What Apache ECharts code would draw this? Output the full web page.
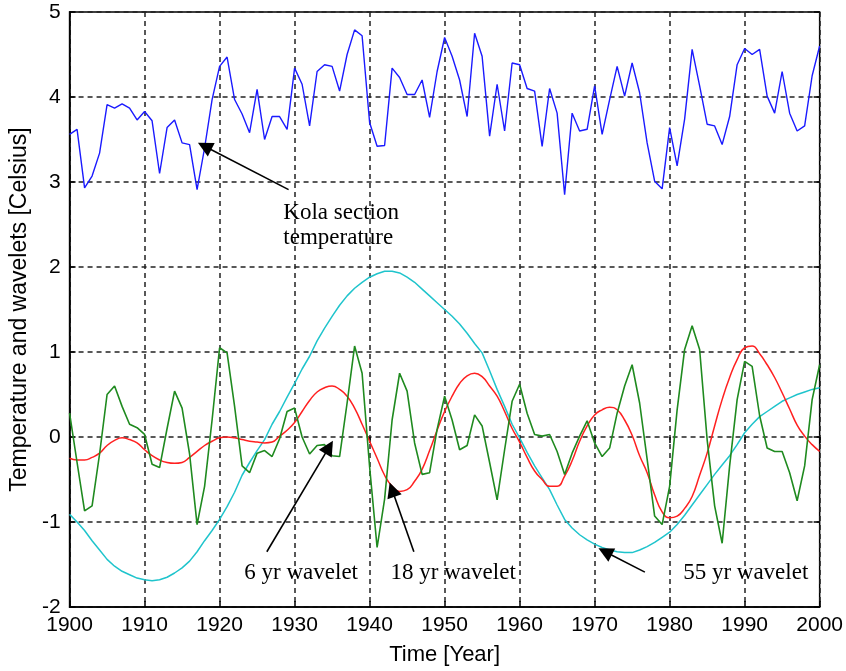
<!DOCTYPE html>
<html>
<head>
<meta charset="utf-8">
<script src="https://cdn.jsdelivr.net/npm/echarts@6/dist/echarts.min.js"></script>
<style>
html,body{margin:0;padding:0;background:#fff;}
#chart{width:846px;height:671px;}
</style>
</head>
<body>
<div id="chart"></div>
<script>
const startYear = 1900;
const xTicks = [1900,1910,1920,1930,1940,1950,1960,1970,1980,1990,2000];
const yTicks = [-2,-1,0,1,2,3,4,5];

const kola = [3.56,3.62,2.93,3.07,3.34,3.91,3.87,3.92,3.87,3.73,
3.83,3.72,3.10,3.64,3.73,3.46,3.44,2.91,3.40,3.97,
4.36,4.47,3.97,3.80,3.58,4.09,3.50,3.77,3.77,3.62,
4.34,4.15,3.66,4.30,4.38,4.36,4.07,4.50,4.79,4.72,
3.70,3.42,3.43,4.34,4.23,4.03,4.03,4.20,3.76,4.30,
4.70,4.48,4.20,3.77,4.75,4.48,3.54,4.15,3.60,4.40,
4.38,4.10,4.07,3.42,4.10,3.81,2.85,3.81,3.60,3.62,
4.13,3.56,3.97,4.36,4.01,4.40,4.05,3.46,3.01,2.92,
3.64,3.19,3.74,4.56,4.13,3.68,3.66,3.44,3.77,4.38,
4.57,4.50,4.56,4.01,3.81,4.30,3.81,3.60,3.66,4.25,
4.60];

const w6 = [0.28,-0.30,-0.87,-0.81,-0.20,0.50,0.60,0.36,0.15,0.11,
0.03,-0.32,-0.36,0.10,0.54,0.34,-0.20,-1.03,-0.58,0.20,
1.05,0.99,0.36,-0.34,-0.42,-0.19,-0.16,-0.23,-0.02,0.30,
0.34,0.00,-0.20,-0.10,-0.09,-0.22,-0.23,0.40,1.07,0.75,
-0.35,-1.30,-0.73,0.20,0.75,0.54,-0.07,-0.44,-0.42,0.09,
0.48,0.20,-0.15,-0.10,0.26,0.13,-0.30,-0.74,-0.15,0.42,
0.62,0.28,0.03,0.01,0.03,-0.17,-0.44,-0.19,0.01,0.19,
-0.07,-0.23,-0.13,0.28,0.60,0.85,0.40,-0.26,-0.93,-1.03,
-0.58,0.32,1.03,1.31,1.03,-0.03,-0.81,-1.25,-0.34,0.44,
0.89,0.83,0.25,-0.13,-0.17,-0.17,-0.42,-0.75,-0.34,0.44,
0.85];

const w18 = [-0.25,-0.27,-0.27,-0.24,-0.19,-0.10,-0.04,-0.01,-0.03,-0.07,
-0.15,-0.22,-0.27,-0.30,-0.31,-0.30,-0.24,-0.17,-0.10,-0.05,
-0.01,0.00,-0.01,-0.03,-0.05,-0.06,-0.07,-0.06,0.01,0.08,
0.17,0.30,0.43,0.53,0.58,0.60,0.56,0.48,0.34,0.15,
-0.05,-0.25,-0.45,-0.58,-0.64,-0.62,-0.52,-0.38,-0.16,0.08,
0.30,0.48,0.63,0.72,0.75,0.71,0.60,0.48,0.30,0.10,
-0.06,-0.24,-0.40,-0.50,-0.58,-0.58,-0.46,-0.28,-0.05,0.13,
0.26,0.32,0.35,0.32,0.20,0.02,-0.22,-0.42,-0.68,-0.88,
-0.95,-0.93,-0.84,-0.70,-0.45,-0.19,0.13,0.44,0.70,0.91,
1.05,1.07,0.98,0.85,0.70,0.52,0.33,0.14,0.01,-0.09,
-0.17];

const w55 = [-0.91,-1.00,-1.10,-1.22,-1.33,-1.44,-1.52,-1.58,-1.62,-1.66,
-1.68,-1.69,-1.68,-1.65,-1.60,-1.54,-1.46,-1.35,-1.22,-1.10,
-0.97,-0.82,-0.65,-0.45,-0.30,-0.16,-0.03,0.15,0.30,0.47,
0.63,0.80,0.95,1.13,1.28,1.42,1.55,1.66,1.75,1.82,
1.88,1.92,1.95,1.95,1.93,1.88,1.82,1.74,1.66,1.58,
1.50,1.42,1.33,1.22,1.10,0.99,0.78,0.56,0.36,0.15,
-0.01,-0.18,-0.34,-0.48,-0.62,-0.80,-0.97,-1.07,-1.15,-1.21,
-1.26,-1.30,-1.33,-1.35,-1.36,-1.36,-1.33,-1.29,-1.24,-1.18,
-1.12,-1.03,-0.92,-0.80,-0.68,-0.56,-0.44,-0.33,-0.22,-0.09,
0.05,0.15,0.24,0.30,0.36,0.42,0.46,0.50,0.53,0.56,
0.58];

// annotations: text lines, anchor year, anchor value per line
const annoTexts = [
  {lines:['Kola section','temperature'], x:1928.5, y:[2.63,2.34]},
  {lines:['6 yr wavelet'], x:1923.3, y:[-1.6]},
  {lines:['18 yr wavelet'], x:1942.8, y:[-1.6]},
  {lines:['55 yr wavelet'], x:1981.8, y:[-1.6]}
];
// arrows: tail year, tail value, tip year, tip value
const arrows = [
  [1929.2, 2.91, 1918.0, 3.42],
  [1926.3, -1.35, 1934.6, -0.12],
  [1945.9, -1.35, 1943.0, -0.62],
  [1976.7, -1.59, 1971.4, -1.35]
];

function pairs(arr){ return arr.map((v,i)=>[startYear+i, v]); }

const chart = echarts.init(document.getElementById('chart'), null, {renderer:'canvas'});
const gridCol = '#222';
const axisFont = 'Liberation Sans, Arial, Helvetica, sans-serif';

const option = {
  animation:false,
  backgroundColor:'#fff',
  grid:{left:69, right:23, top:12, bottom:64, show:true, borderColor:'#000', borderWidth:1.5, containLabel:false},
  xAxis:[{
    type:'value', min:xTicks[0], max:xTicks[xTicks.length-1], interval:10,
    name:'Time [Year]', nameLocation:'middle', nameGap:37,
    nameTextStyle:{fontFamily:axisFont, fontSize:22, color:'#000'},
    axisLine:{show:true, onZero:false, lineStyle:{color:'#000', width:1.5}},
    axisTick:{show:true, inside:true, length:6, lineStyle:{color:'#000', width:1.5}},
    axisLabel:{fontFamily:axisFont, fontSize:21, color:'#000', margin:8, formatter:v=>String(v)},
    splitLine:{show:true, lineStyle:{color:gridCol, type:[5,4], width:1.5}}
  },{
    type:'value', min:xTicks[0], max:xTicks[xTicks.length-1], interval:10, position:'top',
    axisLine:{show:false}, axisLabel:{show:false}, splitLine:{show:false},
    axisTick:{show:true, inside:true, length:6, lineStyle:{color:'#000', width:1.5}}
  }],
  yAxis:[{
    type:'value', min:yTicks[0], max:yTicks[yTicks.length-1], interval:1,
    name:'Temperature and wavelets [Celsius]', nameLocation:'middle', nameGap:38,
    nameTextStyle:{fontFamily:axisFont, fontSize:23, color:'#000'},
    axisLine:{show:true, onZero:false, lineStyle:{color:'#000', width:1.5}},
    axisTick:{show:true, inside:true, length:6, lineStyle:{color:'#000', width:1.5}},
    axisLabel:{fontFamily:axisFont, fontSize:21, color:'#000', margin:9},
    splitLine:{show:true, lineStyle:{color:gridCol, type:[5,4], width:1.5}}
  },{
    type:'value', min:yTicks[0], max:yTicks[yTicks.length-1], interval:1, position:'right',
    axisLine:{show:false}, axisLabel:{show:false}, splitLine:{show:false},
    axisTick:{show:true, inside:true, length:6, lineStyle:{color:'#000', width:1.5}}
  }],
  series:[
    {name:'55 yr wavelet', type:'line', data:pairs(w55), showSymbol:false, smooth:false,
      lineStyle:{color:'#1fc4cc', width:1.5}, itemStyle:{color:'#1fc4cc'}},
    {name:'18 yr wavelet', type:'line', data:pairs(w18), showSymbol:false, smooth:true,
      lineStyle:{color:'#ff2020', width:1.5}, itemStyle:{color:'#ff2020'}},
    {name:'6 yr wavelet', type:'line', data:pairs(w6), showSymbol:false,
      lineStyle:{color:'#1f8a1f', width:1.6}, itemStyle:{color:'#1f8a1f'}},
    {name:'Kola section temperature', type:'line', data:pairs(kola), showSymbol:false,
      lineStyle:{color:'#1a1aff', width:1.4}, itemStyle:{color:'#1a1aff'},
      markLine:{
        silent:true, symbol:['none','triangle'], symbolSize:15, animation:false,
        label:{show:false},
        lineStyle:{color:'#000', width:1.6, type:'solid'},
        data: arrows.map(a=>[{coord:[a[0],a[1]]},{coord:[a[2],a[3]]}])
      }}
  ]
};
chart.setOption(option);

const serifFont = 'Liberation Serif, Times New Roman, serif';
const graphics = [];
annoTexts.forEach(t=>{
  t.lines.forEach((ln,k)=>{
    const p = chart.convertToPixel({xAxisIndex:0, yAxisIndex:0}, [t.x, t.y[k]]);
    graphics.push({type:'text', x:p[0], y:p[1], silent:true,
      style:{text:ln, fill:'#000', font:'23px ' + serifFont, textAlign:'left', textVerticalAlign:'middle'}});
  });
});
chart.setOption({graphic:graphics});
</script>
</body>
</html>
